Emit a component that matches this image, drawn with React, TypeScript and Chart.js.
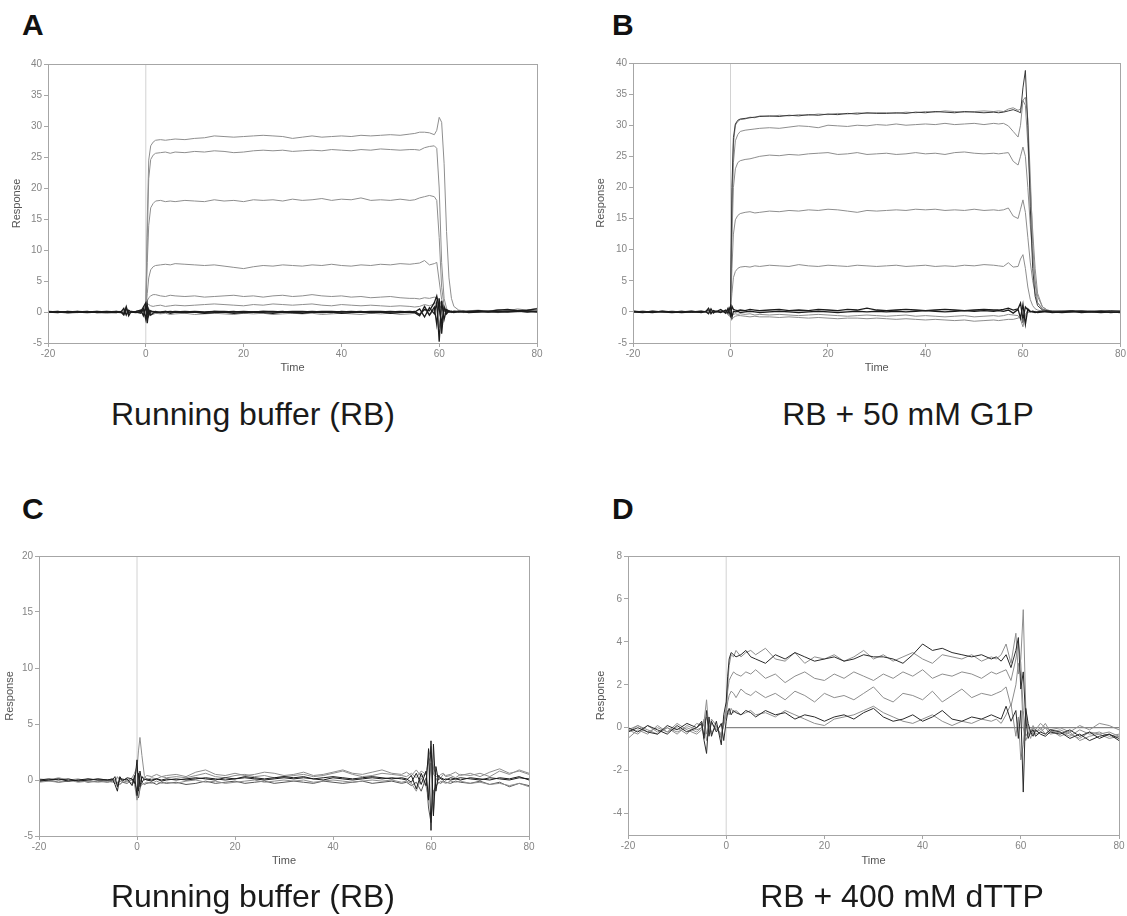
import React, { useEffect, useRef } from 'react';
import { Chart, registerables } from 'chart.js';

Chart.register(...registerables);

const FONT = "Arial, 'Liberation Sans', Helvetica, sans-serif";
const GRAY = '#8e8e8e';
const DARK = '#1c1c1c';
const MID = '#555555';

// ---------- shared time axis (s) ----------
const TIME = [
  -20, -18, -16, -14, -12, -10, -8, -6,
  -5, -4.5, -4, -3.5, -3, -2, -1, -0.5,
  0, 0.3, 0.6, 1, 1.5, 2, 3, 4, 5, 6,
  8, 10, 12, 14, 16, 18, 20, 22, 24, 26, 28, 30,
  32, 34, 36, 38, 40, 42, 44, 46, 48, 50, 52, 54,
  55, 56, 57, 58, 59, 59.5,
  60, 60.5, 61, 61.5, 62, 62.5, 63, 64, 65, 66,
  68, 70, 72, 74, 76, 78, 80,
];

const X_TICKS = [-20, 0, 20, 40, 60, 80];
const A_Y_TICKS = [-5, 0, 5, 10, 15, 20, 25, 30, 35, 40];
const B_Y_TICKS = [-5, 0, 5, 10, 15, 20, 25, 30, 35, 40];
const C_Y_TICKS = [-5, 0, 5, 10, 15, 20];
const D_Y_TICKS = [-4, -2, 0, 2, 4, 6, 8];

const INJECTION_X = [0, 0];
const D_ZERO_X = [0, 80];
const D_ZERO_Y = [0, 0];

// ---------- Panel A: running buffer ----------
const A_TRACE_1 = [
  0.1, 0.0, 0.1, -0.1, 0.1, 0.0, 0.1, 0.0,
  0.1, 0.3, -0.2, 0.1, 0.0, 0.1, 0.2, 0.3,
  0.5, 15.0, 24.5, 26.8, 27.4, 27.7, 27.8, 27.7, 27.8, 27.9,
  27.8, 28.0, 28.1, 28.4, 28.3, 28.2, 28.3, 28.4, 28.5, 28.4, 28.3, 28.0,
  28.2, 28.4, 28.2, 28.3, 28.4, 28.3, 28.5, 28.4, 28.5, 28.6, 28.5, 28.7,
  28.8, 29.0, 29.0, 28.9, 28.6, 29.3,
  31.4, 30.6, 24.0, 13.0, 5.5, 2.2, 0.9, 0.3, 0.2, 0.1,
  0.2, 0.1, 0.3, 0.2, 0.3, 0.2, 0.3,
];
const A_TRACE_2 = [
  0.0, 0.1, 0.0, 0.1, -0.1, 0.1, 0.0, 0.1,
  0.0, 0.2, 0.1, -0.1, 0.1, 0.0, 0.1, 0.2,
  0.3, 12.0, 21.5, 24.6, 25.3, 25.6, 25.7, 25.8, 25.6, 25.8,
  25.7, 25.9, 25.8, 26.0, 25.9, 25.7, 25.8, 26.0, 26.1, 26.0, 26.1, 25.9,
  26.0, 26.1, 26.0, 26.2, 26.1, 26.0, 26.2, 26.1, 26.3, 26.2, 26.1, 26.2,
  26.2, 26.1, 26.5, 26.7, 26.8, 26.4,
  20.0, 8.0, 2.2, 0.6, 0.2, 0.1, 0.1, 0.2, 0.1, 0.2,
  0.1, 0.2, 0.1, 0.2, 0.2, 0.1, 0.2,
];
const A_TRACE_3 = [
  0.1, 0.0, -0.1, 0.1, 0.0, 0.1, -0.1, 0.0,
  0.1, 0.0, 0.2, 0.0, -0.1, 0.1, 0.0, 0.1,
  0.3, 8.0, 14.0, 16.8, 17.5, 17.9, 18.0, 17.8, 17.9, 17.8,
  18.0, 17.9, 17.8, 18.1, 17.9, 18.0, 17.8, 18.1, 18.0, 18.1, 17.9, 18.2,
  18.0, 18.1, 18.3, 18.0, 18.2, 18.1, 18.4, 18.0, 18.1, 18.0, 18.2, 18.0,
  18.1, 18.4, 18.6, 18.8, 18.6, 18.0,
  12.0, 4.0, 1.0, 0.3, 0.1, 0.2, 0.0, 0.1, 0.2, 0.1,
  0.2, 0.0, 0.1, 0.2, 0.1, 0.3, 0.1,
];
const A_TRACE_4 = [
  0.0, 0.1, 0.0, 0.0, 0.1, -0.1, 0.0, 0.1,
  0.0, 0.1, -0.1, 0.2, 0.0, 0.1, 0.1, 0.2,
  0.4, 3.0, 5.5, 6.8, 7.3, 7.5, 7.6, 7.7, 7.6, 7.8,
  7.7, 7.6, 7.5, 7.6, 7.4, 7.2, 7.0, 7.3, 7.5, 7.4, 7.6, 7.5,
  7.4, 7.6, 7.5, 7.7, 7.5, 7.4, 7.6, 7.5, 7.7, 7.6, 7.8, 7.7,
  7.8, 7.9, 8.3, 7.6, 7.8, 8.0,
  5.0, 2.0, 0.6, 0.2, 0.1, 0.0, 0.1, 0.1, 0.0, 0.1,
  0.1, 0.0, 0.2, 0.1, 0.1, 0.2, 0.1,
];
const A_TRACE_5 = [
  0.1, 0.0, 0.1, 0.0, 0.0, 0.1, 0.0, 0.1,
  0.1, 0.0, 0.2, 0.1, 0.0, 0.1, 0.2, 0.4,
  1.0, 1.8, 2.3, 2.6, 2.8, 2.8, 2.6, 2.5, 2.7, 2.6,
  2.5, 2.6, 2.4, 2.5, 2.6, 2.7, 2.5, 2.6, 2.4, 2.6, 2.7, 2.5,
  2.6, 2.8, 2.6, 2.5, 2.6, 2.4, 2.5, 2.3, 2.4, 2.5, 2.3, 2.2,
  2.2, 2.1, 2.3, 2.2, 2.4, 2.3,
  2.0, 1.0, 0.4, 0.1, 0.0, 0.1, 0.0, 0.1, 0.0, 0.1,
  0.0, 0.1, 0.0, 0.1, 0.0, 0.1, 0.0,
];
const A_TRACE_6 = [
  0.0, -0.1, 0.0, 0.1, 0.0, 0.0, -0.1, 0.0,
  0.0, -0.1, 0.1, 0.0, 0.1, 0.0, 0.3, 0.6,
  1.2, 1.4, 1.2, 1.0, 0.9, 1.0, 1.1, 0.9, 1.0, 1.1,
  1.0, 1.1, 1.2, 1.3, 1.2, 1.1, 1.0, 1.2, 1.1, 1.3, 1.2, 1.1,
  1.2, 1.3, 1.1, 1.0, 1.2, 1.1, 1.0, 1.1, 1.0, 0.9, 1.0, 0.9,
  0.8, 0.9, 1.2, 1.0, 1.3, 1.6,
  1.2, 0.5, 0.1, 0.0, -0.1, 0.0, 0.1, 0.0, -0.1, 0.0,
  0.1, 0.0, -0.1, 0.0, 0.1, 0.0, 0.1,
];
const A_TRACE_7 = [
  0.0, 0.1, -0.1, 0.0, 0.1, -0.1, 0.0, 0.1,
  0.0, -0.3, 0.9, -0.6, 0.1, 0.0, -0.2, 0.5,
  -1.2, 1.2, -0.6, 0.2, 0.0, 0.1, -0.1, 0.0, 0.1, 0.0,
  0.1, 0.0, -0.1, 0.1, 0.0, 0.1, -0.1, 0.0, 0.1, 0.0, 0.1, -0.1,
  0.0, 0.1, 0.0, -0.1, 0.1, 0.0, 0.1, -0.1, 0.0, 0.1, 0.0, 0.1,
  0.0, 0.5, -0.8, 0.7, -0.3, 1.6,
  -4.8, 1.8, -1.2, 0.4, 0.1, 0.0, 0.1, 0.0, 0.1, -0.1,
  0.0, 0.1, 0.0, 0.1, 0.2, 0.0, 0.1,
];
const A_TRACE_8 = [
  0.1, 0.0, 0.0, 0.1, 0.0, 0.1, 0.0, -0.1,
  0.1, 0.6, -0.5, 0.3, 0.0, 0.1, 0.3, -0.6,
  1.0, -1.8, 0.4, -0.5, -0.2, 0.0, -0.1, 0.1, -0.2, 0.0,
  -0.1, 0.0, -0.2, -0.1, 0.0, -0.2, -0.1, 0.0, -0.1, -0.2, 0.0, -0.1,
  -0.2, 0.0, -0.1, 0.0, -0.2, -0.1, 0.0, -0.1, 0.0, -0.2, -0.1, 0.0,
  -0.1, -0.6, 0.9, -0.5, 0.8, -2.0,
  2.2, -3.5, 0.8, -0.3, 0.2, 0.0, -0.1, 0.1, 0.0, 0.1,
  0.2, 0.1, 0.3, 0.4, 0.2, 0.3, 0.5,
];
const A_TRACE_9 = [
  -0.1, 0.0, -0.2, -0.1, 0.0, -0.1, -0.2, -0.1,
  -0.1, 0.2, -0.4, 0.3, -0.1, 0.0, -0.1, 0.3,
  -0.8, -1.4, -0.6, -0.3, -0.4, -0.2, -0.3, -0.2, -0.4, -0.3,
  -0.2, -0.4, -0.3, -0.2, -0.3, -0.4, -0.2, -0.3, -0.2, -0.4, -0.3, -0.2,
  -0.3, -0.2, -0.4, -0.3, -0.2, -0.3, -0.4, -0.2, -0.3, -0.2, -0.4, -0.3,
  -0.2, -0.4, 0.5, -0.6, 0.4, 1.2,
  -2.5, 0.8, -0.4, 0.0, 0.1, -0.1, 0.2, 0.1, 0.0, 0.2,
  0.3, 0.1, 0.4, 0.2, 0.5, 0.3, 0.6,
];
const A_TRACE_10 = [
  0.0, -0.1, 0.1, 0.0, -0.1, 0.0, 0.1, 0.0,
  -0.1, -0.5, 0.6, -0.2, 0.0, -0.1, 0.1, 0.8,
  1.5, -0.4, 0.3, 0.0, 0.1, -0.1, 0.0, 0.1, 0.0, 0.1,
  0.0, 0.1, 0.0, 0.1, 0.1, 0.0, 0.1, 0.0, 0.1, 0.1, 0.0, 0.1,
  0.1, 0.0, 0.1, 0.1, 0.0, 0.1, 0.0, 0.1, 0.1, 0.0, 0.1, 0.0,
  0.1, -0.4, 0.4, 0.2, 1.5, 2.6,
  0.5, -1.8, 0.6, 0.2, 0.0, 0.1, 0.0, 0.1, 0.1, 0.0,
  0.1, 0.0, 0.1, 0.0, 0.1, 0.2, 0.0,
];

// ---------- Panel B: RB + 50 mM G1P ----------
const B_TRACE_1 = [
  0.0, 0.1, 0.0, 0.1, 0.0, 0.1, -0.1, 0.0,
  0.1, 0.3, -0.2, 0.2, 0.0, 0.1, 0.0, 0.3,
  0.8, 20.0, 28.0, 30.2, 30.8, 31.0, 31.1, 31.2, 31.3, 31.4,
  31.5, 31.4, 31.6, 31.5, 31.7, 31.6, 31.8, 31.7, 31.9, 31.8, 32.0, 31.9,
  31.9, 32.0, 31.9, 32.1, 32.0, 32.2, 32.1, 32.0, 32.2, 32.1, 32.0, 32.1,
  32.0, 32.1, 32.3, 32.5, 32.2, 32.0,
  36.0, 38.8, 30.0, 17.0, 7.0, 2.5, 1.0, 0.3, 0.2, 0.1,
  0.1, 0.2, 0.1, 0.0, 0.1, 0.2, 0.1,
];
const B_TRACE_2 = [
  0.1, 0.0, 0.1, 0.0, 0.1, 0.0, 0.1, 0.0,
  0.0, 0.2, 0.0, 0.1, 0.1, 0.0, 0.1, 0.2,
  0.6, 18.0, 27.0, 30.0, 30.6, 30.9, 31.0, 31.3, 31.2, 31.5,
  31.4, 31.6, 31.5, 31.7, 31.6, 31.8, 31.7, 31.9, 31.8, 32.0, 31.9, 32.0,
  32.0, 31.9, 32.1, 32.0, 32.2, 32.1, 32.3, 32.2, 32.1, 32.2, 32.3, 32.2,
  32.3, 32.2, 32.6, 32.8, 32.4, 32.6,
  34.0, 34.5, 31.0, 22.0, 11.0, 4.5, 1.5, 0.4, 0.2, 0.1,
  0.2, 0.1, 0.2, 0.1, 0.2, 0.1, 0.2,
];
const B_TRACE_3 = [
  0.0, 0.1, 0.0, 0.0, 0.1, 0.0, 0.1, 0.0,
  0.1, 0.2, 0.0, 0.1, 0.0, 0.1, 0.1, 0.2,
  0.5, 15.0, 24.0, 27.5, 28.5, 29.0, 29.2, 29.3, 29.4, 29.5,
  29.6, 29.5, 29.7, 29.9, 29.8, 29.6, 30.0, 29.9, 29.8, 30.0, 29.9, 30.1,
  30.0, 30.2, 30.0, 30.1, 30.2, 30.1, 30.3, 30.1, 30.2, 30.3, 30.1, 30.3,
  30.2, 30.3, 29.9, 29.0, 28.1, 30.0,
  34.0, 33.2, 27.0, 20.0, 13.0, 7.0, 3.0, 0.8, 0.3, 0.1,
  0.1, 0.2, 0.1, 0.2, 0.1, 0.2, 0.1,
];
const B_TRACE_4 = [
  0.1, 0.0, 0.0, 0.1, 0.0, 0.1, 0.0, 0.1,
  0.0, 0.1, 0.0, 0.2, 0.0, 0.1, 0.0, 0.2,
  0.4, 12.0, 20.0, 23.0, 24.0, 24.3, 24.5, 24.6, 24.8, 25.0,
  25.2, 25.1, 25.3, 25.2, 25.4, 25.5, 25.6, 25.3, 25.4, 25.6, 25.3, 25.4,
  25.5, 25.3, 25.4, 25.6, 25.4, 25.5, 25.3, 25.6, 25.7, 25.5, 25.4, 25.5,
  25.4, 25.5, 25.6, 24.2, 23.6, 25.0,
  26.5, 25.0, 20.0, 14.0, 9.0, 5.0, 2.5, 0.8, 0.3, 0.1,
  0.1, 0.0, 0.1, 0.2, 0.1, 0.1, 0.2,
];
const B_TRACE_5 = [
  0.0, 0.1, 0.0, 0.0, 0.1, 0.0, 0.0, 0.1,
  0.0, 0.1, 0.1, 0.0, 0.1, 0.0, 0.1, 0.1,
  0.3, 7.0, 12.5, 14.8, 15.5, 15.8, 16.0, 16.1, 15.9, 16.0,
  16.2, 16.1, 16.3, 16.2, 16.4, 16.3, 16.5, 16.4, 16.2, 16.0, 16.3, 16.2,
  16.3, 16.4, 16.3, 16.5, 16.4, 16.5, 16.3, 16.4, 16.3, 16.5, 16.3, 16.4,
  16.3, 16.4, 16.7, 15.4, 15.0, 16.5,
  18.0, 16.0, 12.0, 8.0, 5.0, 3.0, 1.5, 0.5, 0.2, 0.1,
  0.0, 0.1, 0.0, 0.1, 0.1, 0.0, 0.1,
];
const B_TRACE_6 = [
  0.0, 0.0, 0.1, 0.0, 0.0, 0.1, 0.0, 0.0,
  0.1, 0.0, 0.1, 0.0, 0.1, 0.0, 0.1, 0.1,
  0.2, 3.0, 5.5, 6.5, 7.0, 7.2, 7.3, 7.2, 7.4, 7.3,
  7.5, 7.4, 7.3, 7.6, 7.4, 7.3, 7.5, 7.4, 7.3, 7.5, 7.4, 7.3,
  7.4, 7.5, 7.3, 7.4, 7.5, 7.3, 7.4, 7.3, 7.5, 7.4, 7.6, 7.5,
  7.4, 7.3, 7.9, 7.2, 7.3, 8.5,
  9.2, 7.0, 4.0, 2.0, 1.0, 0.5, 0.3, 0.1, 0.0, 0.1,
  0.0, 0.1, 0.0, 0.0, 0.1, 0.0, 0.1,
];
const B_TRACE_7 = [
  0.0, -0.1, 0.0, 0.0, -0.1, 0.0, -0.1, 0.0,
  -0.1, 0.3, -0.2, 0.1, 0.0, 0.1, -0.1, -0.3,
  -0.6, -1.2, -0.9, -0.7, -0.6, -0.6, -0.7, -0.8, -0.7, -0.8,
  -0.8, -0.9, -0.8, -0.9, -1.0, -0.9, -1.0, -1.1, -1.0, -1.0, -1.1, -1.0,
  -1.1, -1.2, -1.1, -1.2, -1.3, -1.2, -1.3, -1.4, -1.3, -1.5, -1.4, -1.3,
  -1.4, -1.3, -1.2, -1.2, -1.0, -0.8,
  -1.8, -0.6, -0.1, 0.0, 0.1, 0.0, -0.1, 0.0, 0.1, 0.0,
  -0.1, 0.0, 0.1, 0.0, -0.1, 0.0, 0.0,
];
const B_TRACE_8 = [
  0.1, 0.0, 0.0, -0.1, 0.0, 0.1, 0.0, -0.1,
  0.0, -0.2, 0.4, -0.1, 0.1, 0.0, 0.1, -0.5,
  -0.8, -0.6, -0.4, -0.3, -0.4, -0.3, -0.4, -0.3, -0.5, -0.4,
  -0.5, -0.4, -0.5, -0.6, -0.5, -0.4, -0.5, -0.6, -0.7, -0.6, -0.5, -0.6,
  -0.7, -0.6, -0.5, -0.7, -0.6, -0.7, -0.8, -0.7, -0.6, -0.8, -0.7, -0.6,
  -0.7, -0.6, -0.4, -0.5, -0.6, -1.2,
  -2.4, -0.4, 0.2, 0.1, 0.0, 0.1, 0.0, 0.1, 0.0, 0.1,
  0.0, 0.1, 0.0, 0.1, 0.0, 0.1, 0.0,
];
const B_TRACE_9 = [
  0.0, -0.1, 0.1, 0.0, -0.1, 0.0, 0.1, -0.1,
  0.1, 0.6, -0.3, 0.2, 0.0, 0.4, -0.2, 0.6,
  -0.6, 0.9, 0.4, 0.3, 0.2, 0.3, 0.2, 0.4, 0.3, 0.2,
  0.3, 0.4, 0.2, 0.3, 0.2, 0.4, 0.3, 0.2, 0.4, 0.3, 0.6, 0.3,
  0.2, 0.3, 0.4, 0.3, 0.2, 0.3, 0.4, 0.3, 0.2, 0.3, 0.4, 0.3,
  0.3, 0.4, 0.6, 0.3, 0.5, 1.4,
  -1.2, 0.8, 0.3, 0.0, 0.1, 0.0, -0.1, 0.0, 0.1, 0.0,
  -0.1, 0.0, 0.1, 0.0, -0.1, 0.0, -0.1,
];
const B_TRACE_10 = [
  0.1, 0.0, -0.1, 0.1, 0.0, -0.1, 0.0, 0.1,
  0.0, -0.3, 0.5, -0.2, 0.1, -0.1, 0.3, -0.2,
  0.9, -0.9, 0.1, 0.0, 0.1, -0.1, 0.0, 0.1, 0.0, -0.1,
  0.0, 0.1, 0.0, -0.1, 0.0, 0.1, 0.0, -0.1, 0.0, 0.1, 0.0, 0.1,
  0.0, 0.1, 0.0, 0.1, 0.2, 0.1, 0.0, 0.1, 0.2, 0.1, 0.2, 0.1,
  0.2, 0.1, 0.3, -0.2, 0.4, -1.0,
  1.2, -2.0, 0.5, 0.1, 0.0, -0.1, 0.0, 0.1, 0.0, -0.1,
  0.0, 0.1, -0.1, 0.0, 0.1, -0.1, 0.0,
];

// ---------- Panel C: running buffer (reference) ----------
const C_TRACE_1 = [
  0.0, -0.1, 0.1, 0.0, -0.1, 0.1, 0.0, -0.1,
  0.0, -0.2, 0.3, 0.0, 0.1, 0.0, -0.3, 0.2,
  1.0, 2.6, 3.8, 2.2, 0.4, 0.0, 0.2, 0.1, 0.3, 0.2,
  0.3, 0.2, 0.4, 0.6, 0.3, 0.2, 0.4, 0.5, 0.3, 0.4, 0.2, 0.3,
  0.4, 0.5, 0.3, 0.4, 0.6, 0.8, 0.5, 0.3, 0.4, 0.6, 0.5, 0.4,
  0.3, 0.6, 0.2, 0.8, 0.5, 2.0,
  3.0, 0.5, 0.3, 0.4, 0.2, 0.5, 0.3, 0.4, 0.2, 0.5,
  0.4, 0.6, 0.3, 0.8, 0.5, 0.9, 0.6,
];
const C_TRACE_2 = [
  -0.1, 0.0, 0.1, -0.1, 0.0, 0.1, 0.0, 0.0,
  0.1, -0.4, -1.0, 0.3, 0.0, 0.1, -0.5, 0.4,
  -1.4, 0.6, -0.6, 0.3, 0.0, 0.1, 0.0, 0.1, -0.1, 0.0,
  0.1, 0.0, 0.1, 0.2, 0.1, 0.0, 0.1, 0.2, 0.1, 0.0, 0.1, 0.2,
  0.1, 0.2, 0.1, 0.0, 0.2, 0.1, 0.0, 0.1, 0.2, 0.1, 0.2, 0.1,
  0.0, 0.4, -0.8, 0.6, -0.5, 2.8,
  -4.5, 3.2, -1.0, 0.4, 0.1, 0.0, 0.1, 0.0, 0.1, 0.2,
  0.1, 0.0, 0.2, 0.1, 0.0, 0.2, 0.1,
];
const C_TRACE_3 = [
  -0.2, -0.1, -0.2, 0.0, -0.2, -0.1, -0.2, -0.1,
  -0.2, 0.0, -0.4, -0.1, -0.2, -0.1, 0.0, -0.4,
  -1.8, -1.2, -0.6, -0.4, -0.3, -0.2, -0.3, -0.1, -0.3, -0.2,
  -0.3, -0.1, 0.0, -0.2, -0.1, -0.3, -0.2, -0.1, 0.0, -0.2, -0.1, 0.0,
  -0.1, 0.0, -0.2, -0.1, 0.0, -0.1, -0.2, -0.1, 0.0, -0.1, 0.0, -0.2,
  -0.1, -0.3, -1.0, 0.2, -0.6, -1.5,
  1.5, -2.8, 0.2, -0.3, -0.1, -0.2, -0.3, -0.1, -0.2, -0.1,
  -0.3, -0.2, -0.4, -0.3, -0.5, -0.3, -0.6,
];
const C_TRACE_4 = [
  0.0, 0.1, 0.0, 0.1, -0.1, 0.0, 0.1, 0.0,
  0.0, 0.3, -0.6, 0.2, -0.1, 0.2, 0.1, -0.3,
  1.8, -1.0, 0.8, -0.2, 0.1, 0.0, -0.1, 0.1, 0.0, 0.1,
  0.0, 0.1, 0.2, 0.1, 0.0, 0.2, 0.1, 0.3, 0.2, 0.1, 0.2, 0.3,
  0.2, 0.3, 0.1, 0.2, 0.3, 0.2, 0.1, 0.2, 0.3, 0.2, 0.1, 0.2,
  0.1, -0.2, 0.6, -0.4, 0.8, -1.8,
  3.5, -3.2, 1.2, 0.0, 0.2, 0.1, 0.0, 0.2, 0.1, 0.0,
  0.2, 0.1, 0.0, 0.2, 0.1, 0.3, 0.0,
];
const C_TRACE_5 = [
  0.1, 0.0, 0.2, 0.0, 0.1, -0.1, 0.1, 0.0,
  0.1, 0.0, 0.2, 0.0, 0.1, -0.1, 0.2, 0.6,
  1.2, 0.4, -0.2, 0.3, 0.2, 0.4, 0.3, 0.5, 0.3, 0.4,
  0.5, 0.3, 0.7, 0.9, 0.5, 0.4, 0.6, 0.4, 0.5, 0.7, 0.6, 0.4,
  0.5, 0.7, 0.4, 0.5, 0.7, 0.9, 0.6, 0.5, 0.7, 0.9, 0.6, 0.5,
  0.7, 0.4, 0.9, 0.3, 0.6, 1.6,
  2.2, 1.0, 0.6, 0.3, 0.5, 0.6, 0.4, 0.5, 0.7, 0.4,
  0.6, 0.3, 0.7, 1.0, 0.6, 0.8, 0.5,
];
const C_TRACE_6 = [
  -0.1, 0.0, -0.2, -0.1, 0.0, -0.2, -0.1, -0.2,
  -0.1, -0.3, -0.2, -0.4, -0.2, -0.3, 0.1, -0.2,
  -1.0, -1.6, -0.8, -0.2, -0.4, -0.3, -0.2, -0.4, -0.2, -0.3,
  -0.2, -0.4, -0.3, -0.1, -0.3, -0.2, -0.1, -0.3, -0.2, -0.1, -0.3, -0.2,
  -0.1, -0.2, -0.3, -0.1, -0.2, -0.3, -0.2, -0.1, -0.3, -0.2, -0.1, -0.3,
  -0.2, -0.5, -0.2, -1.0, 0.2, -2.5,
  -3.8, -1.0, -0.6, -0.2, -0.3, -0.1, -0.2, -0.3, -0.1, -0.2,
  -0.3, -0.1, -0.4, -0.2, -0.6, -0.3, -0.5,
];

// ---------- Panel D: RB + 400 mM dTTP ----------
const D_TRACE_1 = [
  -0.5, -0.1, -0.3, 0.1, -0.2, 0.0, -0.3, 0.2,
  0.1, 0.3, 1.3, -0.2, 0.4, 0.1, -0.4, 0.2,
  0.9, 2.0, 2.9, 3.4, 3.3, 3.6, 3.3, 3.5, 3.6, 3.4,
  3.7, 3.2, 3.1, 3.5, 3.0, 3.3, 3.2, 3.4, 3.1, 3.3, 3.6, 3.2,
  3.4, 3.1, 3.3, 3.5, 3.2, 3.0, 3.4, 3.3, 3.2, 3.4, 3.1, 3.3,
  3.2, 3.4, 3.9, 3.0, 4.4, 2.5,
  3.2, 5.5, 1.0, -0.2, -0.5, -0.1, -0.3, -0.2, 0.0, -0.3,
  -0.2, -0.4, -0.1, -0.3, -0.2, -0.4, -0.3,
];
const D_TRACE_2 = [
  -0.2, 0.0, -0.2, -0.3, 0.1, -0.1, 0.2, 0.0,
  0.2, -0.6, -1.2, 0.5, -0.4, 0.3, -0.8, 0.6,
  1.2, 2.4, 3.2, 3.5, 3.4, 3.3, 3.4, 3.6, 3.3, 3.2,
  3.0, 3.4, 3.2, 3.5, 3.3, 3.1, 3.2, 3.3, 3.1, 3.2, 3.4, 3.3,
  3.3, 3.2, 3.0, 3.4, 3.9, 3.6, 3.7, 3.5, 3.4, 3.3, 3.4, 3.2,
  3.3, 3.1, 3.4, 2.8, 3.6, 4.2,
  1.8, 2.6, 0.4, -0.5, -0.2, -0.4, -0.1, -0.3, -0.4, -0.2,
  -0.3, -0.1, -0.4, -0.2, -0.5, -0.3, -0.6,
];
const D_TRACE_3 = [
  -0.1, -0.3, 0.1, -0.2, 0.0, -0.3, 0.1, -0.1,
  0.0, 0.2, 0.5, 0.0, 0.2, -0.1, 0.1, 0.3,
  0.8, 1.7, 2.2, 2.4, 2.6, 2.5, 2.4, 2.6, 2.5, 2.7,
  2.3, 2.5, 2.1, 2.4, 2.6, 2.3, 2.2, 2.5, 2.3, 2.6, 2.4, 2.2,
  2.5, 2.3, 2.6, 2.4, 2.7, 2.3, 2.5, 2.4, 2.6, 2.5, 2.3, 2.6,
  2.5, 2.6, 2.7, 2.2, 3.2, 4.0,
  3.0, 0.8, -0.4, -0.2, -0.3, 0.0, -0.2, -0.1, 0.2, -0.2,
  -0.1, -0.3, -0.5, -0.2, -0.3, -0.2, -0.4,
];
const D_TRACE_4 = [
  -0.2, 0.1, -0.1, -0.3, 0.0, -0.2, 0.0, -0.2,
  0.0, 0.4, -0.3, 0.1, -0.2, 0.0, -0.3, 0.1,
  0.6, 1.2, 1.5, 1.7, 1.6, 1.4, 1.8, 1.6, 1.5, 1.7,
  1.4, 1.6, 1.3, 1.7, 1.5, 1.2, 1.6, 1.4, 1.5, 1.3, 1.6, 1.9,
  1.4, 1.2, 1.6, 1.5, 1.3, 1.7, 1.2, 1.5, 1.8, 1.4, 1.6, 1.5,
  1.6, 1.7, 1.9, 1.0, 2.0, 3.0,
  2.4, 0.0, -0.6, -0.3, -0.1, -0.3, -0.2, 0.0, -0.3, -0.1,
  -0.4, -0.2, -0.6, -0.4, -0.3, -0.5, -0.4,
];
const D_TRACE_5 = [
  0.0, -0.2, 0.1, -0.1, -0.3, 0.1, -0.2, 0.0,
  0.3, -0.5, 0.8, -0.4, 0.3, -0.2, 0.2, -0.6,
  0.3, 0.7, 0.9, 0.6, 0.8, 0.7, 0.6, 0.8, 0.7, 0.5,
  0.8, 0.6, 0.7, 0.4, 0.6, 0.5, 0.3, 0.5, 0.6, 0.4, 0.7, 0.9,
  0.5, 0.3, 0.4, 0.6, 0.3, 0.5, 0.8, 0.4, 0.3, 0.5, 0.4, 0.6,
  0.5, 0.4, 1.0, 0.3, 0.8, -0.5,
  0.8, -3.0, 0.9, 0.2, -0.2, -0.1, -0.4, -0.2, -0.3, -0.1,
  -0.2, -0.5, -0.3, -0.6, -0.4, -0.3, -0.5,
];
const D_TRACE_6 = [
  -0.1, 0.1, -0.2, 0.0, -0.2, 0.2, -0.1, -0.3,
  -0.1, 0.2, -0.6, 0.0, -0.3, 0.1, -0.5, 0.3,
  0.5, 0.8, 0.6, 0.9, 0.7, 0.8, 0.6, 0.7, 0.8, 0.6,
  0.7, 0.5, 0.8, 0.6, 0.4, 0.2, 0.1, 0.4, 0.5, 0.6, 0.8, 1.0,
  0.7, 0.5, 0.3, 0.2, 0.4, 0.6, 0.3, 0.1, 0.3, 0.2, 0.4, 0.3,
  0.4, 0.2, 0.6, 1.1, -0.4, 0.5,
  -1.5, -0.8, 0.6, 0.0, -0.2, 0.1, -0.1, 0.2, 0.0, -0.1,
  0.0, -0.2, 0.1, -0.1, 0.2, 0.1, -0.1,
];

type Trace = { values: number[]; color: string; width?: number };
type PanelSpec = {
  id: string;
  left: number; top: number; width: number; height: number;
  yWidth: number; xHeight: number; padTop: number; padRight: number;
  yTitlePad: number; xTitlePad: number;
  yMin: number; yMax: number; yTicks: number[];
  traces: Trace[];
  zeroLine?: boolean;
};

const PANELS: PanelSpec[] = [
  {
    id: 'A', left: 0, top: 50, width: 545, height: 335,
    yWidth: 48, xHeight: 42, padTop: 14, padRight: 8, yTitlePad: 10, xTitlePad: 10,
    yMin: -5, yMax: 40, yTicks: A_Y_TICKS,
    traces: [
      { values: A_TRACE_7, color: DARK, width: 1.3 }, { values: A_TRACE_8, color: DARK, width: 1.3 },
      { values: A_TRACE_10, color: DARK, width: 1.3 }, { values: A_TRACE_9, color: GRAY },
      { values: A_TRACE_1, color: GRAY }, { values: A_TRACE_2, color: GRAY },
      { values: A_TRACE_3, color: GRAY }, { values: A_TRACE_4, color: GRAY },
      { values: A_TRACE_5, color: GRAY }, { values: A_TRACE_6, color: GRAY },
    ],
  },
  {
    id: 'B', left: 585, top: 50, width: 542, height: 335,
    yWidth: 48, xHeight: 42, padTop: 13, padRight: 4, yTitlePad: 9, xTitlePad: 10,
    yMin: -5, yMax: 40, yTicks: B_Y_TICKS,
    traces: [
      { values: B_TRACE_9, color: DARK, width: 1.3 }, { values: B_TRACE_10, color: DARK, width: 1.3 },
      { values: B_TRACE_1, color: '#3a3a3a' }, { values: B_TRACE_2, color: GRAY },
      { values: B_TRACE_3, color: GRAY }, { values: B_TRACE_4, color: GRAY },
      { values: B_TRACE_5, color: GRAY }, { values: B_TRACE_6, color: GRAY },
      { values: B_TRACE_7, color: GRAY }, { values: B_TRACE_8, color: GRAY },
    ],
  },
  {
    id: 'C', left: 0, top: 540, width: 540, height: 340,
    yWidth: 39, xHeight: 44, padTop: 16, padRight: 11, yTitlePad: 3, xTitlePad: 12,
    yMin: -5, yMax: 20, yTicks: C_Y_TICKS,
    traces: [
      { values: C_TRACE_2, color: DARK }, { values: C_TRACE_4, color: DARK },
      { values: C_TRACE_1, color: GRAY }, { values: C_TRACE_3, color: GRAY },
      { values: C_TRACE_5, color: GRAY }, { values: C_TRACE_6, color: MID },
    ],
  },
  {
    id: 'D', left: 585, top: 540, width: 542, height: 340,
    yWidth: 43, xHeight: 45, padTop: 16, padRight: 8, yTitlePad: 9, xTitlePad: 12,
    yMin: -5, yMax: 8, yTicks: D_Y_TICKS,
    zeroLine: true,
    traces: [
      { values: D_TRACE_2, color: '#2a2a2a' }, { values: D_TRACE_5, color: '#2a2a2a' },
      { values: D_TRACE_1, color: GRAY }, { values: D_TRACE_3, color: GRAY },
      { values: D_TRACE_4, color: GRAY }, { values: D_TRACE_6, color: GRAY },
    ],
  },
];

const framePlugin = {
  id: 'frame',
  afterDatasetsDraw(chart: any) {
    const { ctx, chartArea } = chart;
    ctx.save();
    ctx.strokeStyle = '#a6a6a6';
    ctx.lineWidth = 1;
    ctx.strokeRect(
      Math.round(chartArea.left) + 0.5,
      Math.round(chartArea.top) + 0.5,
      Math.round(chartArea.right - chartArea.left),
      Math.round(chartArea.bottom - chartArea.top)
    );
    ctx.restore();
  },
};

function Panel({ spec }: { spec: PanelSpec }) {
  const ref = useRef<HTMLCanvasElement | null>(null);
  useEffect(() => {
    if (!ref.current) return;
    const datasets: any[] = spec.traces.map((tr) => ({
      data: TIME.map((t, i) => ({ x: t, y: tr.values[i] })),
      borderColor: tr.color,
      borderWidth: tr.width ?? 1,
      pointRadius: 0,
      tension: 0,
      fill: false,
    }));
    if (spec.zeroLine) {
      datasets.push({
        data: D_ZERO_X.map((x, i) => ({ x, y: D_ZERO_Y[i] })),
        borderColor: '#6a6a6a', borderWidth: 1, pointRadius: 0, fill: false,
      });
    }
    datasets.push({
      data: INJECTION_X.map((x, i) => ({ x, y: i === 0 ? spec.yMin : spec.yMax })),
      borderColor: '#d2d2d2', borderWidth: 1, pointRadius: 0, fill: false,
    });
    const tickFont = { family: FONT, size: 10 };
    const titleFont = { family: FONT, size: 11 };
    const chart = new Chart(ref.current, {
      type: 'line',
      data: { datasets },
      plugins: [framePlugin],
      options: {
        animation: false,
        responsive: false,
        maintainAspectRatio: false,
        events: [],
        layout: { padding: { top: spec.padTop, right: spec.padRight, left: 0, bottom: 0 } },
        plugins: { legend: { display: false }, tooltip: { enabled: false } },
        scales: {
          x: {
            type: 'linear', min: -20, max: 80,
            afterBuildTicks: (s: any) => { s.ticks = X_TICKS.map((v) => ({ value: v })); },
            afterFit: (s: any) => { s.height = spec.xHeight; },
            grid: { drawOnChartArea: false, drawTicks: true, tickLength: 4, color: '#a6a6a6' },
            border: { display: true, color: '#a6a6a6' },
            ticks: { font: tickFont, color: '#858585', padding: 1, maxRotation: 0, autoSkip: false },
            title: { display: true, text: 'Time', font: titleFont, color: '#555', padding: { top: 0, bottom: spec.xTitlePad } },
          },
          y: {
            type: 'linear', min: spec.yMin, max: spec.yMax,
            afterBuildTicks: (s: any) => { s.ticks = spec.yTicks.map((v) => ({ value: v })); },
            afterFit: (s: any) => { s.width = spec.yWidth; },
            grid: { drawOnChartArea: false, drawTicks: true, tickLength: 4, color: '#a6a6a6' },
            border: { display: true, color: '#a6a6a6' },
            ticks: { font: tickFont, color: '#858585', padding: 2, autoSkip: false },
            title: { display: true, text: 'Response', font: titleFont, color: '#555', padding: { top: spec.yTitlePad, bottom: 0 } },
          },
        },
      } as any,
    });
    return () => chart.destroy();
  }, [spec]);
  return (
    <canvas
      ref={ref}
      width={spec.width}
      height={spec.height}
      style={{ position: 'absolute', left: spec.left, top: spec.top, width: spec.width, height: spec.height }}
    />
  );
}

const LETTERS = [
  { text: 'A', left: 22, top: 10 },
  { text: 'B', left: 612, top: 10 },
  { text: 'C', left: 22, top: 494 },
  { text: 'D', left: 612, top: 494 },
];

const SUBTITLES = [
  { text: 'Running buffer (RB)', center: 253, top: 398 },
  { text: 'RB + 50 mM G1P', center: 908, top: 398 },
  { text: 'Running buffer (RB)', center: 253, top: 880 },
  { text: 'RB + 400 mM dTTP', center: 902, top: 880 },
];

export default function App() {
  return (
    <div style={{ position: 'absolute', left: 0, top: 0, width: 1127, height: 916, background: '#fff', overflow: 'hidden', fontFamily: FONT }}>
      {PANELS.map((p) => <Panel key={p.id} spec={p} />)}
      {LETTERS.map((l) => (
        <div key={l.text} style={{ position: 'absolute', left: l.left, top: l.top, fontSize: 30, lineHeight: '30px', fontWeight: 700, color: '#111' }}>
          {l.text}
        </div>
      ))}
      {SUBTITLES.map((s, i) => (
        <div key={i} style={{ position: 'absolute', left: s.center - 250, top: s.top, width: 500, textAlign: 'center', fontSize: 32, lineHeight: '32px', color: '#1a1a1a' }}>
          {s.text}
        </div>
      ))}
    </div>
  );
}
